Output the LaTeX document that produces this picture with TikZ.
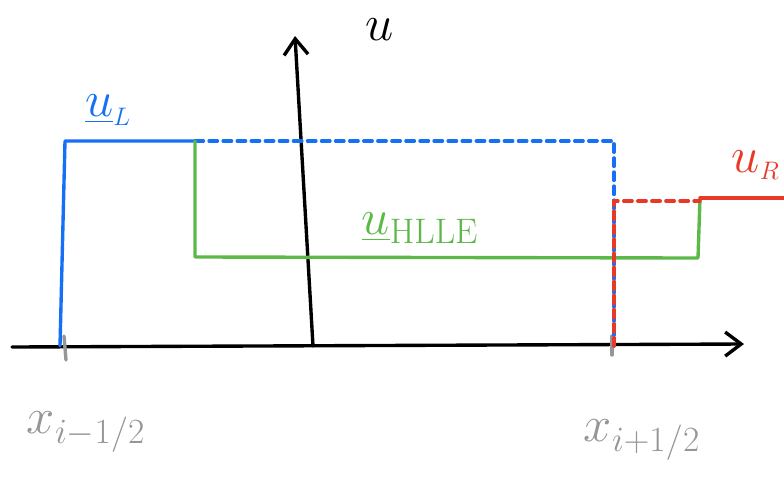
\RequirePackage{fix-cm}
\documentclass[tikz,border=0pt]{standalone}
\usepackage{amsmath}
\usetikzlibrary{arrows.meta}
\definecolor{SketchBlue}{RGB}{22,112,245}
\definecolor{SketchGreen}{RGB}{92,184,72}
\definecolor{SketchRed}{RGB}{232,56,40}
\definecolor{SketchGray}{RGB}{150,150,150}

\begin{document}
\begin{tikzpicture}[x=0.025cm,y=-0.025cm,
 sketch/.style={line width=2.4pt,line cap=round,line join=round},
 dashline/.style={sketch,dash pattern=on 6pt off 4pt},
 axis/.style={sketch,black,-{Straight Barb[length=4mm,width=6mm,line width=2.4pt]}},
 lbl/.style={font=\fontsize{36}{40}\selectfont,inner sep=0pt}]
\useasboundingbox (0,0) rectangle (784,476);
\clip (0,0) rectangle (784,476);
% corners of the states
\coordinate (lbot) at (60,346);
\coordinate (ltop) at (65,141);
\coordinate (lend) at (195,141);
\coordinate (rtop) at (614,141);
\coordinate (rbot) at (614,346);
\coordinate (hbot) at (195,257);
\coordinate (hend) at (698,258);
\coordinate (htop) at (700,198);
\coordinate (ulev) at (614,201);
\coordinate (uright) at (700,201);
\coordinate (redge) at (790,198);
% axes
\coordinate (xstart) at (12,347);
\coordinate (xend) at (744,344);
\coordinate (ybot) at (313,346);
\coordinate (ytop) at (295,36);
\draw[axis] (xstart) -- (xend);
\draw[axis] (ybot) -- (ytop);
% ticks
\draw[sketch,SketchGray] (64,336) -- (66,360);
\draw[sketch,SketchGray] (612,336) -- (612,355);
% left state
\draw[sketch,SketchBlue] (lbot) -- (ltop) -- (lend);
\draw[dashline,SketchBlue] (lend) -- (rtop) -- (rbot);
% HLLE state
\draw[sketch,SketchGreen] (lend) -- (hbot) -- (hend) -- (htop);
% right state
\draw[dashline,SketchRed] (rbot) -- (ulev) -- (uright);
\draw[sketch,SketchRed] (htop) -- (redge);
% labels
\node[lbl] (ulabel) at (380,30) {$u$};
\node[lbl,SketchBlue] (ulL) at (108,110) {$\underline{u}_{\scriptscriptstyle L}$};
\node[lbl,SketchGreen] (ulH) at (420,228) {$\underline{u}_{\scriptstyle\mathrm{HLLE}}$};
\node[lbl,SketchRed,anchor=east] (ulR) at (780,165) {$u_{\scriptscriptstyle R}$};
\node[lbl,SketchGray] (xleft) at (86,432) {$x_{i-1/2}$};
\node[lbl,SketchGray] (xright) at (642,440) {$x_{i+1/2}$};
\end{tikzpicture}
\end{document}
